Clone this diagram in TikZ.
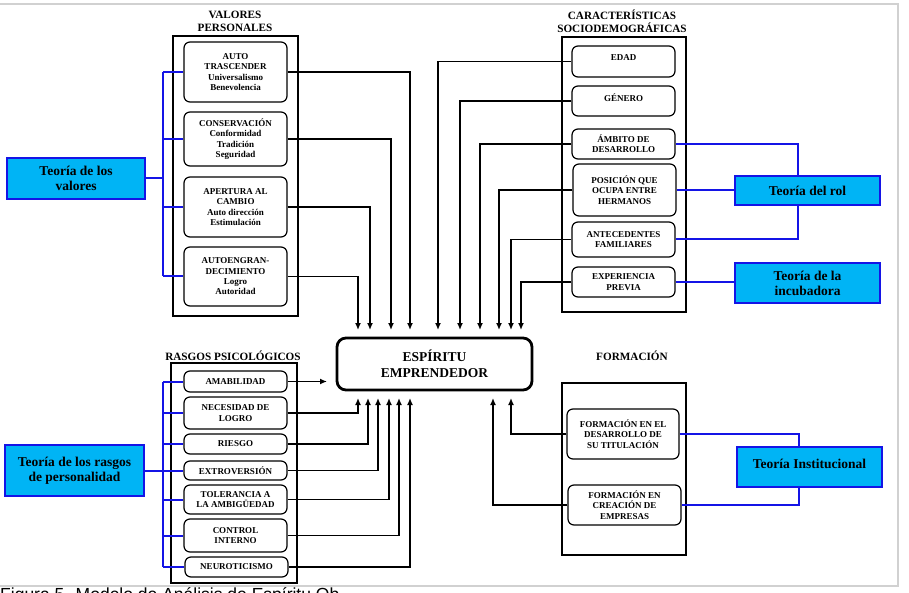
\documentclass[tikz,border=0pt]{standalone}
\usepackage{fontspec}
\setmainfont{Liberation Serif}
\newfontfamily\capfont{Liberation Sans}
\usetikzlibrary{arrows.meta}
\definecolor{cyanfill}{HTML}{00B4F5}
\definecolor{busblue}{HTML}{1414E6}
\begin{document}
\begin{tikzpicture}[x=1pt,y=-1pt,
  panel/.style={draw, line width=2.6pt, inner sep=0pt},
  item/.style={draw, rounded corners=6pt, line width=1.2pt, align=center,
    font=\fontsize{9}{10.3}\selectfont\bfseries, inner sep=0pt},
  theory/.style={draw=busblue, fill=cyanfill, line width=2pt, align=center,
    font=\fontsize{13.5}{15}\selectfont\bfseries, inner sep=0pt},
  paneltitle/.style={align=center, font=\fontsize{11.2}{13}\selectfont\bfseries, inner sep=0pt},
  bus/.style={draw=busblue, line width=2pt},
  conn/.style={draw, line width=1.35pt},
  arr/.style={conn, -{Latex[length=7pt,width=6pt]}}
]
\useasboundingbox (0,0) rectangle (909,593);
% outer frame
\draw[black!18, line width=1.5pt] (-2,4) -- (898,4) -- (898,586) -- (-2,586);

% ---------------- VALORES PERSONALES ----------------
\node[paneltitle] (vtitle) at (235,21) {VALORES\\PERSONALES};
\node[panel, minimum width=125pt, minimum height=280pt] (vbox) at (235.5,176) {};
\node[item, minimum width=103pt, minimum height=60pt] (v1) at (235.5,72)
  {AUTO\\TRASCENDER\\Universalismo\\Benevolencia};
\node[item, minimum width=103pt, minimum height=54pt] (v2) at (235.5,139)
  {CONSERVACIÓN\\Conformidad\\Tradición\\Seguridad};
\node[item, minimum width=103pt, minimum height=60pt] (v3) at (235.5,207)
  {APERTURA AL\\CAMBIO\\Auto dirección\\Estimulación};
\node[item, minimum width=103pt, minimum height=59pt] (v4) at (235.5,276.5)
  {AUTOENGRAN-\\DECIMIENTO\\Logro\\Autoridad};
\node[theory, minimum width=138pt, minimum height=41pt] (tv) at (76,178.5) {Teoría de los\\valores};
\coordinate (vb) at (163,0);
\draw[bus] (tv.east) -- (tv.east -| vb);
\draw[bus] (v1.west -| vb) -- (v4.west -| vb);
\foreach \n in {v1,v2,v3,v4} \draw[bus] (\n.west -| vb) -- (\n.west);

% ---------------- ESPIRITU ----------------
\node[draw, rounded corners=9pt, line width=2.8pt, minimum width=195pt, minimum height=52pt,
  align=center, font=\fontsize{13.5}{15.5}\selectfont\bfseries, inner sep=0pt] (esp) at (434.5,364)
  {ESPÍRITU\\EMPRENDEDOR};

% top arrival points
\coordinate (t1) at (410,330);
\coordinate (t2) at (391,330);
\coordinate (t3) at (370,330);
\coordinate (t4) at (358,330);
\draw[arr] (v1.east) -| (t1);
\draw[arr] (v2.east) -| (t2);
\draw[arr] (v3.east) -| (t3);
\draw[arr] (v4.east) -| (t4);

% ---------------- SOCIODEMOGRAFICAS ----------------
\node[paneltitle] (stitle) at (622,21) {CARACTERÍSTICAS\\SOCIODEMOGRÁFICAS};
\node[panel, minimum width=124pt, minimum height=275pt] (sbox) at (624,174.5) {};
\node[item, minimum width=103pt, minimum height=31pt] (s1) at (623.5,61.5) {\raisebox{7pt}{EDAD}};
\node[item, minimum width=103pt, minimum height=30pt] (s2) at (623.5,101) {\raisebox{6pt}{GÉNERO}};
\node[item, minimum width=103pt, minimum height=30pt] (s3) at (623.5,144) {ÁMBITO DE\\DESARROLLO};
\node[item, minimum width=103pt, minimum height=52pt] (s4) at (624.5,190) {POSICIÓN QUE\\OCUPA ENTRE\\HERMANOS};
\node[item, minimum width=103pt, minimum height=35pt] (s5) at (623.5,239.5) {ANTECEDENTES\\FAMILIARES};
\node[item, minimum width=103pt, minimum height=30pt] (s6) at (623.5,282) {EXPERIENCIA\\PREVIA};
\coordinate (t5) at (438,330);
\coordinate (t6) at (460,330);
\coordinate (t7) at (480,330);
\coordinate (t8) at (499,330);
\coordinate (t9) at (511,330);
\coordinate (t10) at (521,330);
\draw[arr] (s1.west) -| (t5);
\draw[arr] (s2.west) -| (t6);
\draw[arr] (s3.west) -| (t7);
\draw[arr] (s4.west) -| (t8);
\draw[arr] (s5.west) -| (t9);
\draw[arr] (s6.west) -| (t10);

\node[theory, minimum width=145pt, minimum height=29pt] (tr) at (807.5,190.5) {Teoría del rol};
\node[theory, minimum width=145pt, minimum height=40pt] (ti) at (807.5,283) {Teoría de la\\incubadora};
\coordinate (rb) at (798,0);
\draw[bus] (s3.east) -| (tr.north -| rb);
\draw[bus] (s4.east) -- (s4.east -| tr.west);
\draw[bus] (s5.east) -| (tr.south -| rb);
\draw[bus] (s6.east) -- (s6.east -| ti.west);

% ---------------- RASGOS PSICOLOGICOS ----------------
\node[paneltitle] (rtitle) at (233,356) {RASGOS PSICOLÓGICOS};
\node[panel, minimum width=126pt, minimum height=220pt] (rbox) at (234,473) {};
\node[item, minimum width=103pt, minimum height=21pt] (r1) at (235.5,381.5) {AMABILIDAD};
\node[item, minimum width=103pt, minimum height=32pt] (r2) at (235.5,413) {NECESIDAD DE\\LOGRO};
\node[item, minimum width=103pt, minimum height=20pt] (r3) at (235.5,444) {RIESGO};
\node[item, minimum width=103pt, minimum height=19pt] (r4) at (235.5,470.5) {EXTROVERSIÓN};
\node[item, minimum width=103pt, minimum height=29pt] (r5) at (235.5,499.5) {TOLERANCIA A\\LA AMBIGÜEDAD};
\node[item, minimum width=103pt, minimum height=33pt] (r6) at (235.5,535.5) {CONTROL\\INTERNO};
\node[item, minimum width=103pt, minimum height=20pt] (r7) at (236.5,567) {NEUROTICISMO};
\node[theory, minimum width=139pt, minimum height=51pt] (trp) at (74.5,470.5) {Teoría de los rasgos\\de personalidad};
\draw[bus] (trp.east) -- (trp.east -| vb);
\draw[bus] (r1.west -| vb) -- (r7.west -| vb);
\foreach \n in {r1,r2,r3,r4,r5,r6,r7} \draw[bus] (\n.west -| vb) -- (\n.west);

\coordinate (am) at (327,381.5);
\draw[arr] (r1.east) -- (am);
\coordinate (b1) at (358,398);
\coordinate (b2) at (368,398);
\coordinate (b3) at (378,398);
\coordinate (b4) at (389,398);
\coordinate (b5) at (399,398);
\coordinate (b6) at (410,398);
\draw[arr] (r2.east) -| (b1);
\draw[arr] (r3.east) -| (b2);
\draw[arr] (r4.east) -| (b3);
\draw[arr] (r5.east) -| (b4);
\draw[arr] (r6.east) -| (b5);
\draw[arr] (r7.east) -| (b6);

% ---------------- FORMACION ----------------
\node[paneltitle] (ftitle) at (632,356) {FORMACIÓN};
\node[panel, minimum width=124pt, minimum height=172pt] (fbox) at (624,469) {};
\node[item, minimum width=112pt, minimum height=50pt] (f1) at (623,434) {FORMACIÓN EN EL\\DESARROLLO DE\\SU TITULACIÓN};
\node[item, minimum width=113pt, minimum height=40pt] (f2) at (624.5,505) {FORMACIÓN EN\\CREACIÓN DE\\EMPRESAS};
\coordinate (b7) at (511,398);
\coordinate (b8) at (493,398);
\draw[arr] (f1.west) -| (b7);
\draw[arr] (f2.west) -| (b8);
\node[theory, minimum width=145pt, minimum height=40pt] (tin) at (809.5,467) {\raisebox{6pt}{Teoría Institucional}};
\coordinate (ib) at (799,0);
\draw[bus] (f1.east) -| (tin.north -| ib);
\draw[bus] (f2.east) -| (tin.south -| ib);

% ---------------- caption (cut off) ----------------
\begin{scope}
\clip (0,0) rectangle (909,593);
\node[anchor=base west, inner sep=0pt, font=\capfont\fontsize{17.5}{20}\selectfont] (cap) at (0,600)
  {Figura 5. Modelo de Análisis de Espíritu Ob};
\end{scope}
\end{tikzpicture}
\end{document}
